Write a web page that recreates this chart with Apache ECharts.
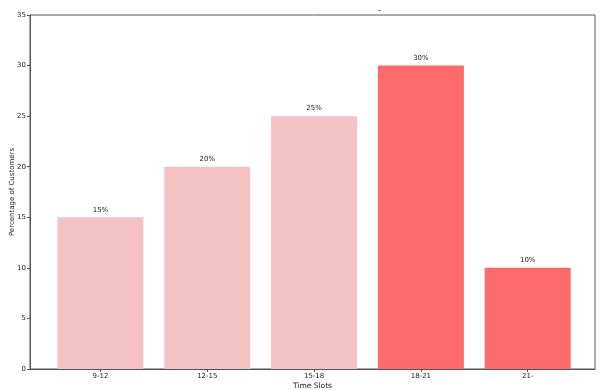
<!DOCTYPE html>
<html><head><meta charset="utf-8">
<script src="https://cdn.jsdelivr.net/npm/echarts@6/dist/echarts.min.js"></script>
<style>html,body{margin:0;padding:0;background:#fff}#c{width:602px;height:390px}</style>
</head><body><div id="c"></div>
<script>
const categories = ['9-12', '12-15', '15-18', '18-21', '21-'];
const values = [15, 20, 25, 30, 10];
const barColors = ['#F4C2C2', '#F4C2C2', '#F4C2C2', '#FF6B6B', '#FF6B6B'];
const yTicks = [0, 5, 10, 15, 20, 25, 30, 35];

const chart = echarts.init(document.getElementById('c'), null, {renderer: 'canvas'});
const idx = categories.map((_, i) => i);
const font = 'DejaVu Sans';
chart.setOption({
  animation: false,
  title: {text: '-', left: 373, top: 2, textStyle: {fontSize: 8, fontWeight: 'normal', color: '#000', fontFamily: font}},
  grid: {left: 30, right: 7, top: 15, bottom: 21, show: true, borderColor: '#555', borderWidth: 1,
    containLabel: false, outerBoundsMode: 'none'},
  xAxis: {
    type: 'value', min: -0.66, max: 4.63,
    name: 'Time Slots', nameLocation: 'middle', nameGap: 13, nameMoveOverlap: false,
    nameTextStyle: {fontSize: 7.5, color: '#222', fontFamily: font},
    axisLine: {show: true, onZero: false, lineStyle: {color: '#555'}},
    axisTick: {show: true, customValues: idx, length: 3, lineStyle: {color: '#555'}},
    axisLabel: {customValues: idx, fontSize: 7, color: '#222', margin: 4, fontFamily: font,
      formatter: v => categories[Math.round(v)]},
    splitLine: {show: false}
  },
  yAxis: {
    type: 'value', min: 0, max: 35, interval: 5,
    name: 'Percentage of Customers', nameLocation: 'middle', nameGap: 14, nameMoveOverlap: false,
    nameTextStyle: {fontSize: 7, color: '#222', fontFamily: font},
    axisLine: {show: true, onZero: false, lineStyle: {color: '#555'}},
    axisTick: {show: true, length: 3, lineStyle: {color: '#555'}},
    axisLabel: {fontSize: 7, color: '#222', margin: 4, fontFamily: font,
      formatter: v => yTicks.includes(v) ? String(v) : ''},
    splitLine: {show: false}
  },
  series: [{
    type: 'bar', barWidth: 86,
    data: values.map((v, i) => ({value: [i, v], itemStyle: {color: barColors[i]}})),
    label: {show: true, position: 'top', distance: 4, fontSize: 7, color: '#222', fontFamily: font,
      formatter: p => p.value[1] + '%'}
  }]
});
</script></body></html>
